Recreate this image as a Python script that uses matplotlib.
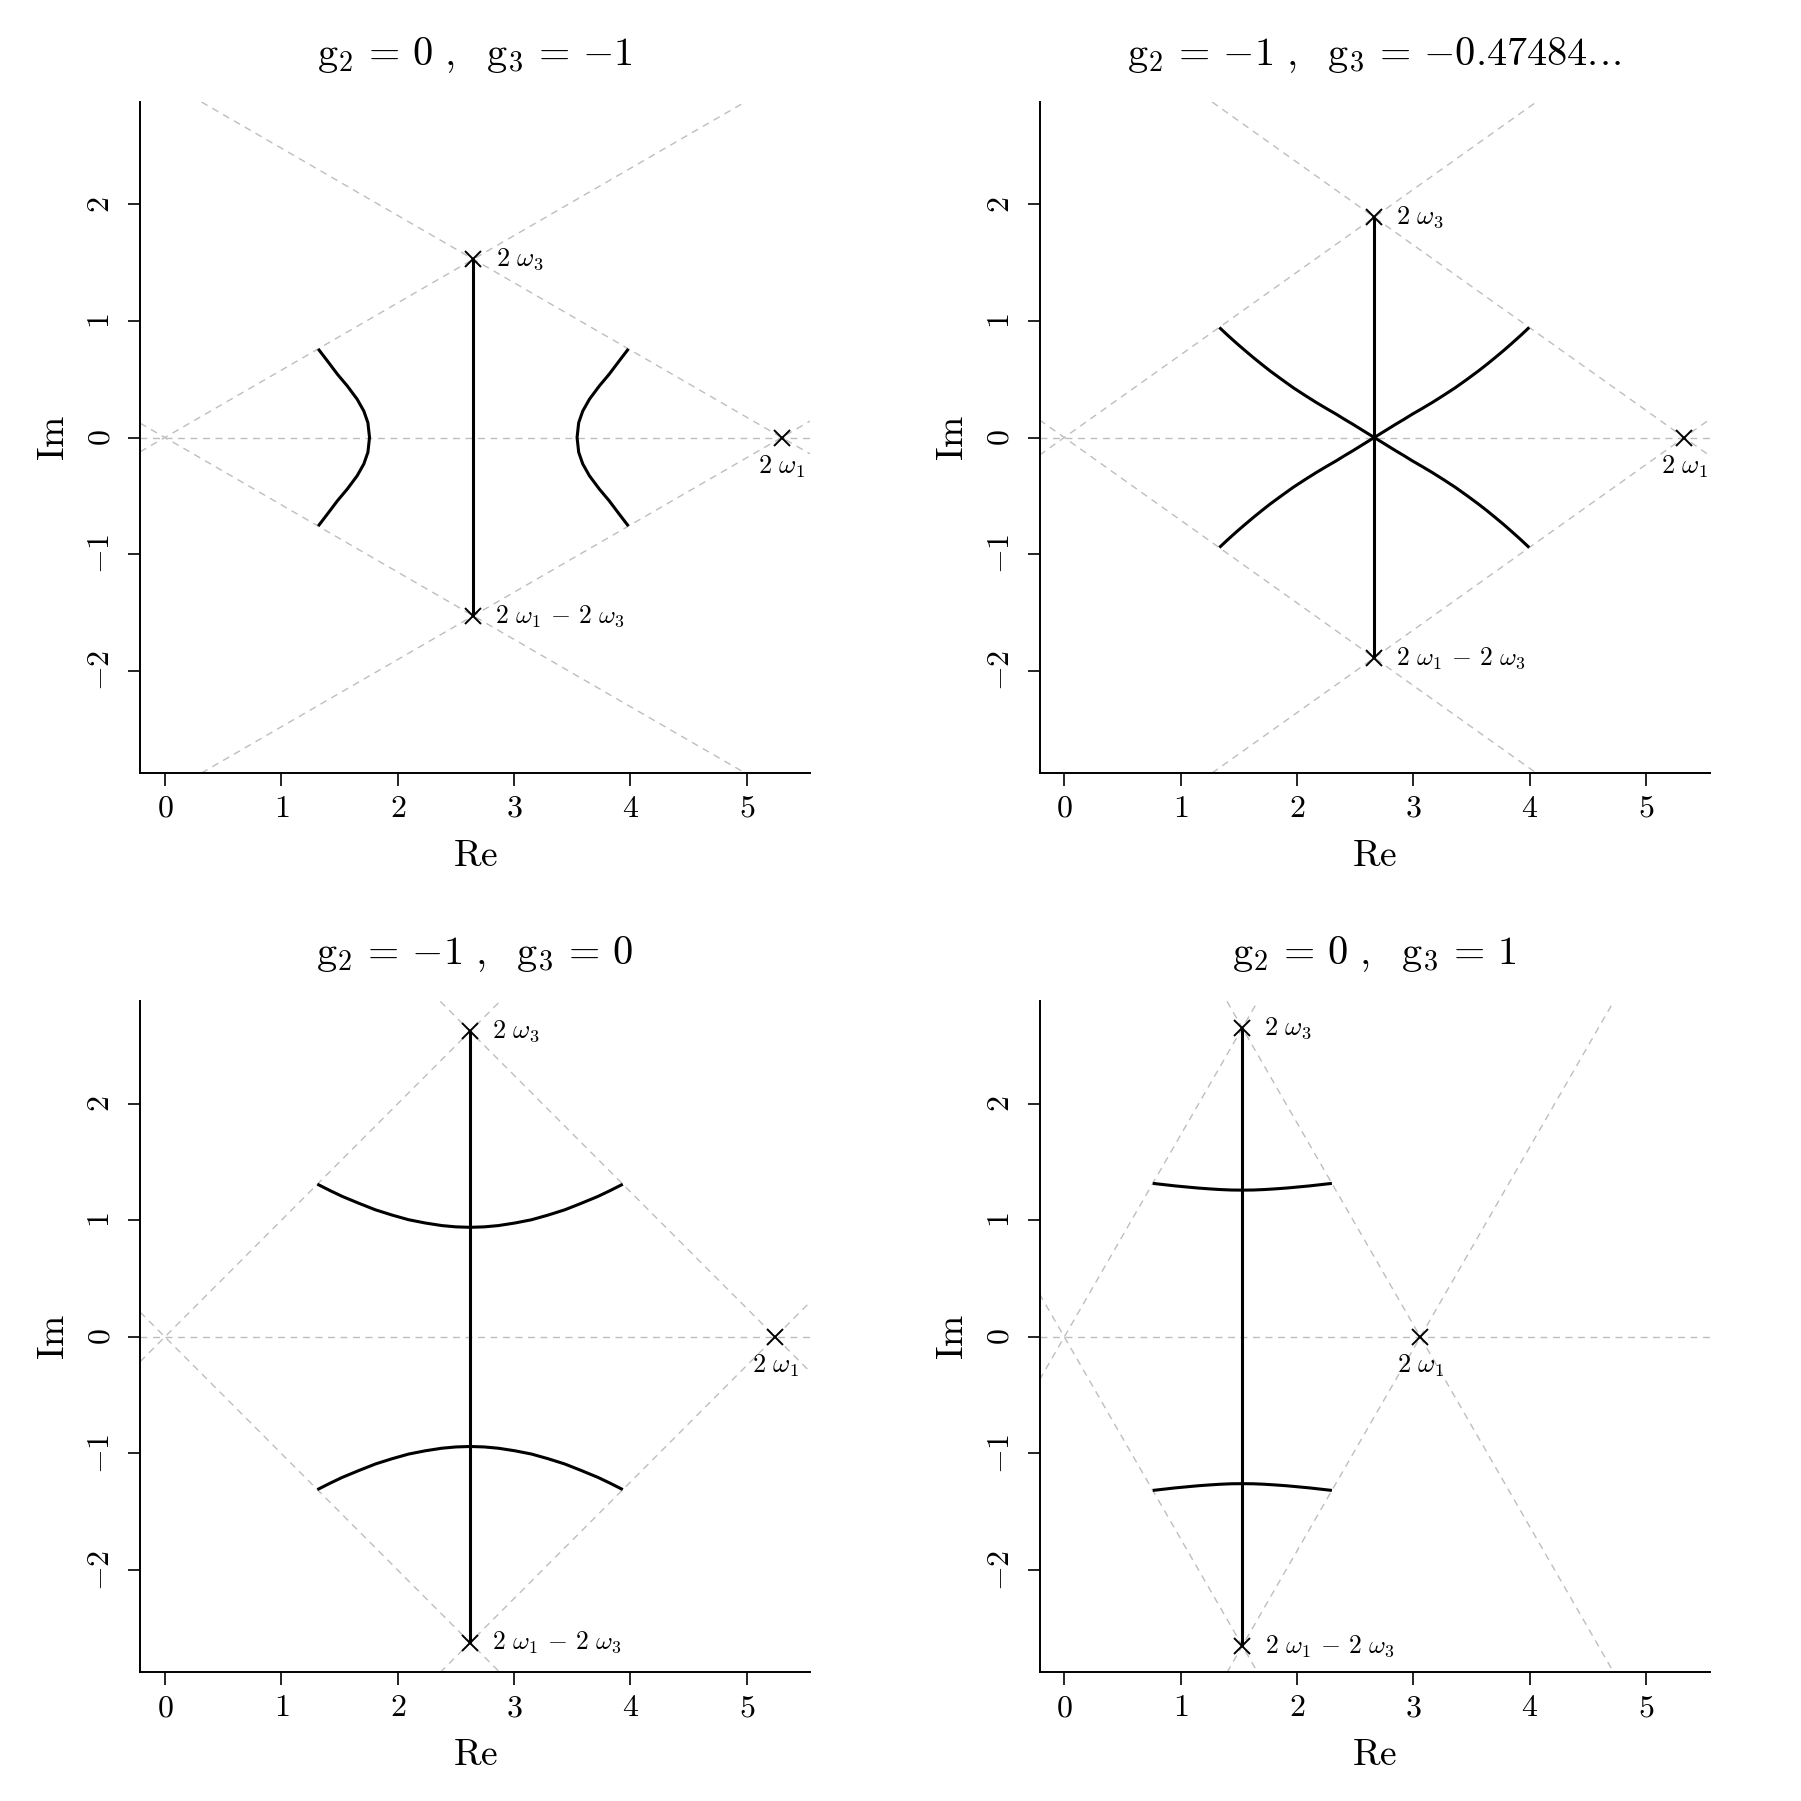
import matplotlib
matplotlib.use("Agg")
import matplotlib.pyplot as plt

plt.rcParams.update({
    "mathtext.fontset": "cm",
    "font.family": "serif",
    "font.serif": ["cmr10", "DejaVu Serif"],
    "axes.formatter.use_mathtext": True,
})

# ---------------- data ----------------
titles = [
    r"$\mathrm{g}_2\,=\,0\ ,\ \ \mathrm{g}_3\,=\,{-1}$",
    r"$\mathrm{g}_2\,=\,{-1}\ ,\ \ \mathrm{g}_3\,=\,{-0.47484}.\!.\!.$",
    r"$\mathrm{g}_2\,=\,{-1}\ ,\ \ \mathrm{g}_3\,=\,0$",
    r"$\mathrm{g}_2\,=\,0\ ,\ \ \mathrm{g}_3\,=\,1$",
]

# 2*omega1 (real) and 2*omega3 (complex: re, im) for each panel
two_w1 = [5.299, 5.325, 5.244, 3.059]
two_w3_re = [2.650, 2.663, 2.622, 1.529]
two_w3_im = [1.530, 1.890, 2.622, 2.649]

# panel 1 curves
p1_left_x = [1.317, 1.396, 1.482, 1.567, 1.652, 1.709, 1.744, 1.758,
             1.744, 1.709, 1.652, 1.567, 1.482, 1.396, 1.317]
p1_left_y = [0.760, 0.657, 0.543, 0.442, 0.328, 0.227, 0.127, 0.0,
             -0.127, -0.227, -0.328, -0.442, -0.543, -0.657, -0.760]
p1_right_x = [3.982, 3.903, 3.817, 3.732, 3.647, 3.590, 3.555, 3.541,
              3.555, 3.590, 3.647, 3.732, 3.817, 3.903, 3.982]
p1_right_y = [0.760, 0.657, 0.543, 0.442, 0.328, 0.227, 0.127, 0.0,
              -0.127, -0.227, -0.328, -0.442, -0.543, -0.657, -0.760]

# panel 2 curves (two branches crossing at the centre)
p2_a_x = [1.332, 1.408, 1.484, 1.555, 1.625, 1.697, 1.768, 1.868, 1.967, 2.067,
          2.167, 2.253, 2.338, 2.409, 2.480, 2.572, 2.663,
          2.754, 2.846, 2.917, 2.988, 3.073, 3.159, 3.259, 3.359, 3.459, 3.558,
          3.630, 3.701, 3.772, 3.842, 3.918, 3.994]
p2_a_y = [-0.944, -0.873, -0.805, -0.744, -0.685, -0.627, -0.571, -0.498, -0.427,
          -0.362, -0.299, -0.248, -0.199, -0.155, -0.113, -0.056, 0.0,
          0.056, 0.113, 0.155, 0.199, 0.248, 0.299, 0.362, 0.427, 0.498, 0.571,
          0.627, 0.685, 0.744, 0.805, 0.873, 0.944]
p2_b_x = [1.332, 1.408, 1.484, 1.555, 1.625, 1.697, 1.768, 1.868, 1.967, 2.067,
          2.167, 2.253, 2.338, 2.409, 2.480, 2.572, 2.663,
          2.754, 2.846, 2.917, 2.988, 3.073, 3.159, 3.259, 3.359, 3.459, 3.558,
          3.630, 3.701, 3.772, 3.842, 3.918, 3.994]
p2_b_y = [0.944, 0.873, 0.805, 0.744, 0.685, 0.627, 0.571, 0.498, 0.427,
          0.362, 0.299, 0.248, 0.199, 0.155, 0.113, 0.056, 0.0,
          -0.056, -0.113, -0.155, -0.199, -0.248, -0.299, -0.362, -0.427, -0.498, -0.571,
          -0.627, -0.685, -0.744, -0.805, -0.873, -0.944]

# panel 3 curves
p3_top_x = [1.310, 1.417, 1.524, 1.667, 1.809, 1.952, 2.094, 2.237, 2.379, 2.500,
            2.622, 2.744, 2.865, 3.007, 3.150, 3.292, 3.435, 3.577, 3.720, 3.827, 3.934]
p3_top_y = [1.310, 1.256, 1.205, 1.146, 1.090, 1.045, 1.005, 0.977, 0.955, 0.944,
            0.940, 0.944, 0.955, 0.977, 1.005, 1.045, 1.090, 1.146, 1.205, 1.256, 1.310]
p3_bot_x = [1.310, 1.417, 1.524, 1.667, 1.809, 1.952, 2.094, 2.237, 2.379, 2.500,
            2.622, 2.744, 2.865, 3.007, 3.150, 3.292, 3.435, 3.577, 3.720, 3.827, 3.934]
p3_bot_y = [-1.310, -1.256, -1.205, -1.146, -1.090, -1.045, -1.005, -0.977, -0.955, -0.944,
            -0.940, -0.944, -0.955, -0.977, -1.005, -1.045, -1.090, -1.146, -1.205, -1.256, -1.310]

# panel 4 curves
p4_top_x = [0.760, 0.858, 0.955, 1.052, 1.149, 1.245, 1.340, 1.435, 1.529,
            1.623, 1.718, 1.814, 1.910, 2.007, 2.104, 2.202, 2.299]
p4_top_y = [1.317, 1.306, 1.295, 1.286, 1.277, 1.270, 1.264, 1.260, 1.259,
            1.260, 1.264, 1.270, 1.277, 1.286, 1.295, 1.306, 1.317]
p4_bot_x = [0.760, 0.858, 0.955, 1.052, 1.149, 1.245, 1.340, 1.435, 1.529,
            1.623, 1.718, 1.814, 1.910, 2.007, 2.104, 2.202, 2.299]
p4_bot_y = [-1.317, -1.306, -1.295, -1.286, -1.277, -1.270, -1.264, -1.260, -1.259,
            -1.260, -1.264, -1.270, -1.277, -1.286, -1.295, -1.306, -1.317]

curves = [
    [(p1_left_x, p1_left_y), (p1_right_x, p1_right_y)],
    [(p2_a_x, p2_a_y), (p2_b_x, p2_b_y)],
    [(p3_top_x, p3_top_y), (p3_bot_x, p3_bot_y)],
    [(p4_top_x, p4_top_y), (p4_bot_x, p4_bot_y)],
]

x_ticks = [0, 1, 2, 3, 4, 5]
y_ticks = [-2, -1, 0, 1, 2]
x_lim = (-0.213, 5.543)
y_lim = (-2.878, 2.878)

# ---------------- figure ----------------
fig = plt.figure(figsize=(18.01, 18.01), dpi=100)
W = 670 / 1801
H = 671 / 1801
positions = [
    (140.1 / 1801, 1 - 773.0 / 1801),
    (1039.5 / 1801, 1 - 773.0 / 1801),
    (140.1 / 1801, 1 - 1672.4 / 1801),
    (1039.5 / 1801, 1 - 1672.4 / 1801),
]

grey = "#BEBEBE"
for i in range(4):
    ax = fig.add_axes([positions[i][0], positions[i][1], W, H])
    ax.set_xlim(*x_lim)
    ax.set_ylim(*y_lim)
    for s in ("top", "right"):
        ax.spines[s].set_visible(False)
    for s in ("left", "bottom"):
        ax.spines[s].set_linewidth(1.4)

    w1 = two_w1[i]
    wr = two_w3_re[i]
    wi = two_w3_im[i]
    slope = wi / wr
    dkw = dict(color=grey, lw=1.0, dashes=(5, 4), zorder=1)
    ax.axhline(0, **dkw)
    ax.axline((0, 0), slope=slope, **dkw)
    ax.axline((0, 0), slope=-slope, **dkw)
    ax.axline((w1, 0), slope=slope, **dkw)
    ax.axline((w1, 0), slope=-slope, **dkw)

    ax.plot([wr, wr], [-wi, wi], color="black", lw=2.2, zorder=3,
            solid_capstyle="butt")
    for cx, cy in curves[i]:
        ax.plot(cx, cy, color="black", lw=2.2, zorder=3, solid_capstyle="butt",
                solid_joinstyle="round")

    ax.plot([w1, wr, w1 - wr], [0, wi, -wi], linestyle="none", marker="x",
            ms=12, mew=1.4, color="black", zorder=4)

    ax.annotate(r"$2\ \omega_3$", (wr, wi), xytext=(16, 0), textcoords="offset points",
                ha="left", va="center", fontsize=19)
    ax.annotate(r"$2\ \omega_1\,-\,2\ \omega_3$", (w1 - wr, -wi), xytext=(16, 0),
                textcoords="offset points", ha="left", va="center", fontsize=18.5)
    ax.annotate(r"$2\ \omega_1$", (w1, 0), xytext=(0, -21), textcoords="offset points",
                ha="center", va="center", fontsize=19)

    ax.set_xticks(x_ticks)
    ax.set_xticklabels([r"$%d$" % v for v in x_ticks])
    ax.set_yticks(y_ticks)
    ax.set_yticklabels([r"$%d$" % v for v in y_ticks])
    ax.tick_params(axis="both", length=9, width=1.2, labelsize=23)
    ax.tick_params(axis="x", pad=7)
    ax.tick_params(axis="y", pad=9, labelrotation=90)
    for lbl in ax.get_yticklabels():
        lbl.set_va("center")

    ax.set_xlabel(r"$\mathrm{Re}$", fontsize=27, labelpad=12)
    ax.set_ylabel(r"$\mathrm{Im}$", fontsize=27, labelpad=12)
    ax.set_title(titles[i], fontsize=29, pad=27)

fig.savefig("out.png", dpi=100)
